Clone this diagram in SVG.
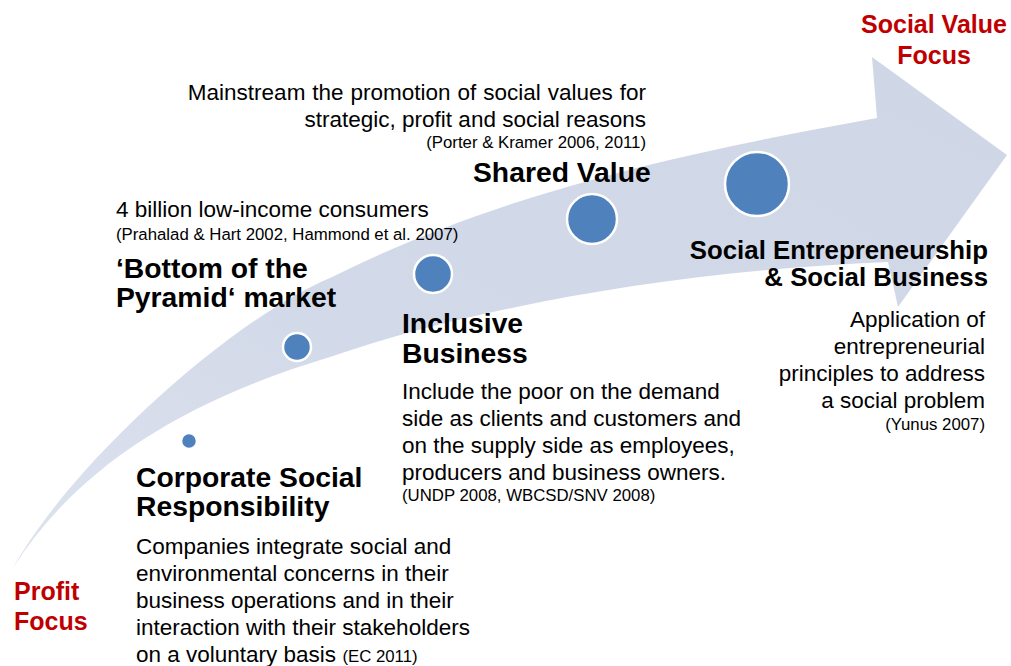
<svg xmlns="http://www.w3.org/2000/svg" width="1011" height="666" viewBox="0 0 1011 666">
  <defs>
    <linearGradient id="arrowGrad" x1="0" y1="1" x2="1" y2="0">
      <stop offset="0" stop-color="#dde2ee"/>
      <stop offset="0.4" stop-color="#d2d9e8"/>
      <stop offset="1" stop-color="#cfd7e7"/>
    </linearGradient>
  </defs>
  <style>
    text { font-family: "Liberation Sans", Arial, sans-serif; fill: #000; }
    .red { font-weight: bold; font-size: 25px; fill: #c00000; }
    .head { font-weight: bold; font-size: 28.3px; }
    .head2 { font-weight: bold; font-size: 25.8px; }
    .body { font-size: 22.5px; }
    .cite { font-size: 16.8px; }
    .dot { fill: #4f81bd; stroke: #ffffff; stroke-width: 2.5; }
    .end { text-anchor: end; }
    .mid { text-anchor: middle; }
  </style>
  <rect width="1011" height="666" fill="#ffffff"/>

  <g id="connectors">
    <path id="big-arrow" fill="url(#arrowGrad)" d="M13,568 C70,465 230,320 330,278 C510,188 700,150 877,118 L872,57 L1007,155 L898,307 L888,262 C688,270 480,305 330,357 C180,402 75,470 13,568 Z"/>
  </g>

  <g id="label-social-value-focus">
    <text class="red mid" x="934" y="33">Social Value</text>
    <text class="red mid" x="934" y="64">Focus</text>
  </g>

  <g id="label-profit-focus">
    <text class="red" x="14" y="600">Profit</text>
    <text class="red" x="14" y="630">Focus</text>
  </g>

  <g id="node-csr">
    <circle class="dot" cx="189" cy="441" r="8"/>
    <text class="head" x="136" y="487">Corporate Social</text>
    <text class="head" x="136" y="516">Responsibility</text>
    <text class="body" x="136" y="554">Companies integrate social and</text>
    <text class="body" x="136" y="581">environmental concerns in their</text>
    <text class="body" x="136" y="608">business operations and in their</text>
    <text class="body" x="136" y="635">interaction with their stakeholders</text>
    <text class="body" x="136" y="662">on a voluntary basis <tspan class="cite">(EC 2011)</tspan></text>
  </g>

  <g id="node-bop">
    <circle class="dot" cx="297" cy="347" r="14"/>
    <text class="body" x="116" y="217">4 billion low-income consumers</text>
    <text class="cite" x="116" y="240">(Prahalad &amp; Hart 2002, Hammond et al. 2007)</text>
    <text class="head" x="116" y="278">‘Bottom of the</text>
    <text class="head" x="116" y="307">Pyramid‘ market</text>
  </g>

  <g id="node-inclusive">
    <circle class="dot" cx="433" cy="274" r="19"/>
    <text class="head" x="402" y="333">Inclusive</text>
    <text class="head" x="402" y="363">Business</text>
    <text class="body" x="402" y="399">Include the poor on the demand</text>
    <text class="body" x="402" y="426">side as clients and customers and</text>
    <text class="body" x="402" y="453">on the supply side as employees,</text>
    <text class="body" x="402" y="480">producers and business owners.</text>
    <text class="cite" x="402" y="501">(UNDP 2008, WBCSD/SNV 2008)</text>
  </g>

  <g id="node-shared-value">
    <circle class="dot" cx="592" cy="219" r="25"/>
    <text class="body end" x="646" y="100" word-spacing="0.7">Mainstream the promotion of social values for</text>
    <text class="body end" x="646" y="127">strategic, profit and social reasons</text>
    <text class="cite end" x="646" y="148">(Porter &amp; Kramer 2006, 2011)</text>
    <text class="head" x="473" y="182">Shared Value</text>
  </g>

  <g id="node-social-entrepreneurship">
    <circle class="dot" cx="757" cy="184" r="32"/>
    <text class="head2 end" x="988" y="259">Social Entrepreneurship</text>
    <text class="head2 end" x="988" y="286">&amp; Social Business</text>
    <text class="body end" x="985" y="327">Application of</text>
    <text class="body end" x="985" y="354">entrepreneurial</text>
    <text class="body end" x="985" y="381">principles to address</text>
    <text class="body end" x="985" y="408">a social problem</text>
    <text class="cite end" x="985" y="430">(Yunus 2007)</text>
  </g>
</svg>
